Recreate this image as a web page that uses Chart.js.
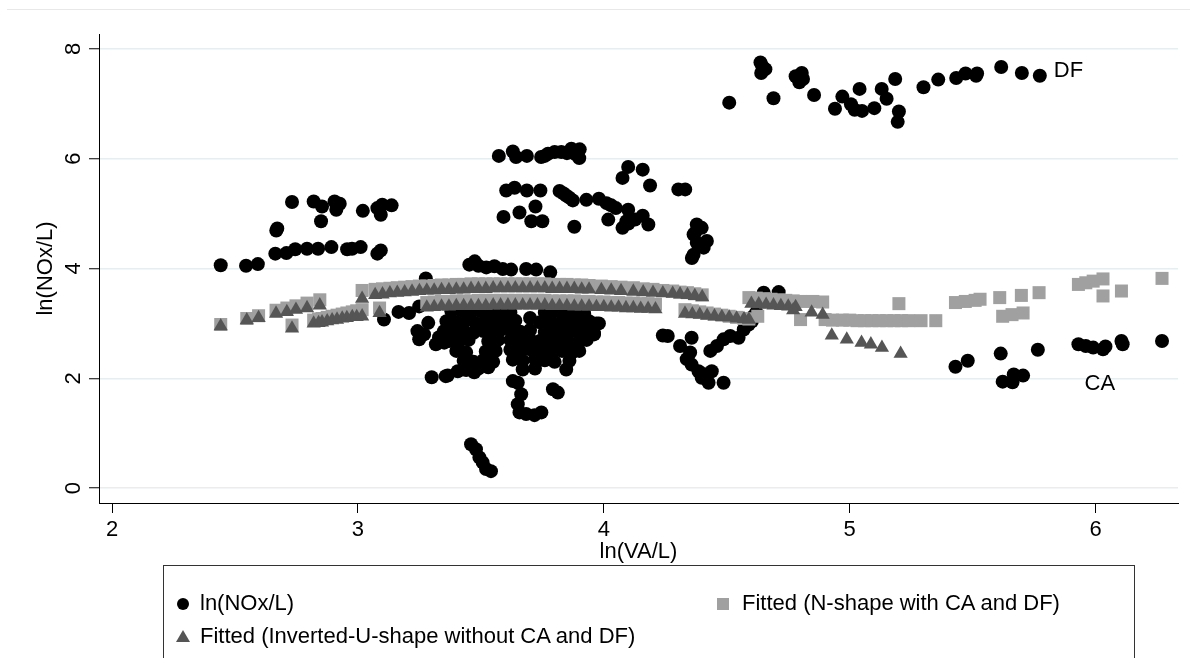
<!DOCTYPE html>
<html><head><meta charset="utf-8">
<script src="https://cdn.jsdelivr.net/npm/chart.js@4.4.0/dist/chart.umd.min.js"></script>
<style>
html,body{margin:0;padding:0;background:#fff;width:1198px;height:658px;overflow:hidden;font-family:"Liberation Sans",Arial,sans-serif;}
#wrap{position:relative;width:1198px;height:658px;}
#c{position:absolute;left:0;top:0;}
#topline{position:absolute;left:7px;right:8px;top:9px;height:1px;background:#e3eaec;}
#legend{position:absolute;left:163px;top:565px;width:972px;height:120px;border:1px solid #333;box-sizing:border-box;font-size:22px;color:#000;}
.item{position:absolute;height:30px;line-height:30px;white-space:nowrap;}
.mk{position:absolute;}
.circ{width:12px;height:12px;border-radius:50%;background:#000;}
.sq{width:12px;height:12px;background:#a0a0a0;}
.tri{width:0;height:0;border-left:7px solid transparent;border-right:7px solid transparent;border-bottom:12px solid #555;}
</style>
</head><body>
<div id="wrap">
<div id="topline"></div>
<canvas id="c" width="1198" height="658"></canvas>
<div id="legend">
  <div class="mk circ" style="left:13px;top:32px;"></div>
  <div class="item" style="left:36px;top:22px;">ln(NOx/L)</div>
  <div class="mk sq" style="left:553px;top:32px;"></div>
  <div class="item" style="left:578px;top:22px;">Fitted (N-shape with CA and DF)</div>
  <div class="mk tri" style="left:12px;top:64px;"></div>
  <div class="item" style="left:36px;top:55px;">Fitted (Inverted-U-shape without CA and DF)</div>
</div>
</div>
<script>
const xTicks = [2,3,4,5,6];
const yTicks = [0,2,4,6,8];
const xTitle = 'ln(VA/L)';
const yTitle = 'ln(NOx/L)';
const labelDF = {text:'DF', x:5.83, y:7.59};
const labelCA = {text:'CA', x:5.955, y:1.89};

// ln(NOx/L) observations [x, y]
const obsLeft = [
[2.442,4.06],[2.545,4.05],[2.593,4.08],[2.668,4.69],[2.672,4.73],[2.664,4.27],[2.709,4.28],[2.745,4.35],[2.793,4.36],[2.838,4.36],[2.892,4.39],[2.956,4.35],[2.976,4.36],[3.011,4.39],[3.079,4.27],[3.093,4.33],
[2.732,5.21],[2.82,5.22],[2.854,5.13],[2.85,4.86],[2.905,5.22],[2.926,5.18],[2.912,5.07],[3.02,5.05],[3.079,5.10],[3.099,5.16],[3.093,4.98],[3.137,5.15]
];
const obsMid = [
[3.276,3.82],[3.106,3.07],[3.165,3.21],[3.208,3.19],[3.249,3.31],[3.286,3.01],[3.242,2.86],[3.269,2.80],[3.249,2.71],[3.317,2.62],[3.33,2.75],[3.351,2.65],
[3.30,2.02],[3.357,2.04],[3.365,2.05],[3.406,2.13],[3.44,2.15],[3.473,2.11],
[3.453,4.07],[3.475,4.13],[3.49,4.05],[3.522,4.02],[3.555,4.04],[3.589,3.99],[3.623,3.98],[3.684,3.99],[3.725,3.98],[3.782,3.93]
];
const obsCluster = [
[3.38,3.22],[3.42,3.24],[3.46,3.20],[3.50,3.22],[3.54,3.19],[3.58,3.20],
[3.36,3.04],[3.40,3.02],[3.44,3.05],[3.48,3.00],[3.52,3.03],[3.56,3.01],[3.60,3.04],
[3.35,2.86],[3.39,2.84],[3.43,2.87],[3.47,2.83],[3.51,2.86],[3.55,2.84],[3.58,2.88],
[3.37,2.68],[3.41,2.66],[3.45,2.70],[3.53,2.67],[3.57,2.70],
[3.40,2.50],[3.44,2.47],[3.52,2.49],[3.56,2.50],
[3.43,2.32],[3.47,2.30],[3.51,2.33],[3.55,2.30],[3.49,2.18],[3.53,2.20],
[3.62,2.88],[3.66,2.85],[3.70,2.88],[3.64,3.05],[3.70,3.10],[3.62,3.20],
[3.62,2.70],[3.66,2.68],[3.70,2.71],[3.74,2.68],
[3.62,2.52],[3.66,2.50],[3.70,2.53],[3.74,2.50],[3.78,2.52],
[3.63,2.34],[3.67,2.32],[3.72,2.35],[3.76,2.33],[3.67,2.16],[3.72,2.18],
[3.63,1.95],[3.65,1.92],[3.664,1.71],[3.65,1.53],[3.657,1.38],[3.684,1.35],[3.718,1.33],[3.746,1.38],[3.793,1.80],[3.813,1.74],
[3.76,3.20],[3.80,3.22],[3.84,3.19],[3.88,3.21],[3.92,3.18],
[3.74,3.02],[3.78,3.04],[3.82,3.00],[3.86,3.03],[3.90,3.01],[3.94,3.04],[3.97,3.00],
[3.76,2.84],[3.80,2.86],[3.84,2.83],[3.88,2.86],[3.92,2.84],[3.96,2.82],
[3.78,2.66],[3.82,2.68],[3.86,2.65],[3.90,2.67],[3.93,2.70],
[3.79,2.48],[3.83,2.50],[3.87,2.47],[3.90,2.50],[3.80,2.30],[3.86,2.32],[3.847,2.16],
[3.46,0.80],[3.48,0.71],[3.494,0.56],[3.507,0.47],[3.521,0.35],[3.541,0.31]
];
const obsHigh = [
[3.573,6.05],[3.63,6.13],[3.643,6.03],[3.687,6.05],[3.745,6.03],[3.76,6.05],[3.773,6.09],[3.80,6.12],[3.827,6.12],[3.85,6.10],[3.868,6.18],[3.882,6.09],[3.902,6.17],[3.90,6.01],
[3.603,5.42],[3.637,5.47],[3.687,5.42],[3.742,5.42],[3.722,5.13],
[3.592,4.94],[3.657,5.02],[3.705,4.86],[3.75,4.86],
[3.82,5.41],[3.835,5.37],[3.847,5.33],[3.86,5.29],[3.874,5.24],[3.929,5.25],[3.98,5.27],[4.011,5.19],[4.03,5.15],[4.049,5.10],[4.099,5.07],
[3.88,4.76],[4.018,4.89],[4.076,4.74],[4.092,4.86],[4.10,4.82],[4.127,4.89],[4.158,4.96],[4.181,4.80],
[4.099,5.85],[4.158,5.80],[4.076,5.65],[4.188,5.51],[4.303,5.44],[4.331,5.44],
[4.378,4.80],[4.398,4.74],[4.371,4.65],[4.365,4.62],[4.378,4.47],[4.419,4.50],[4.385,4.44],[4.406,4.38],[4.365,4.25],[4.358,4.19]
];
const obsRight = [
[4.24,2.78],[4.26,2.77],[4.31,2.59],[4.357,2.74],[4.351,2.47],[4.337,2.35],[4.357,2.25],[4.385,2.13],[4.405,2.08],[4.398,2.01],[4.426,1.92],[4.439,2.13],[4.487,1.92],
[4.433,2.50],[4.46,2.59],[4.487,2.71],[4.514,2.77],[4.548,2.74],[4.569,2.89],[4.589,2.98],[4.602,3.04],[4.609,3.13],[4.62,3.20],
[4.65,3.56],[4.711,3.57],[3.96,2.80],[3.98,3.00]
];
const obsDF = [
[4.51,7.02],[4.637,7.75],[4.645,7.68],[4.657,7.63],[4.64,7.56],[4.69,7.10],[4.78,7.50],[4.805,7.56],[4.81,7.45],[4.795,7.39],[4.855,7.16],
[4.94,6.91],[4.97,7.13],[5.005,6.99],[5.02,6.89],[5.05,6.87],[5.04,7.27],[5.10,6.92],[5.13,7.27],[5.15,7.09],[5.185,7.45],[5.20,6.86],[5.195,6.67],
[5.30,7.30],[5.36,7.44],[5.433,7.47],[5.471,7.55],[5.514,7.51],[5.518,7.55],[5.616,7.67],[5.70,7.56],[5.773,7.51]
];
const obsCA = [
[5.43,2.21],[5.48,2.32],[5.614,2.45],[5.622,1.94],[5.662,1.93],[5.667,2.07],[5.705,2.05],[5.765,2.52],
[5.93,2.62],[5.96,2.59],[5.99,2.56],[6.03,2.53],[6.04,2.58],[6.105,2.68],[6.11,2.62],[6.27,2.68]
];

// Fitted (N-shape with CA and DF) [x, y]
const nshapeLeft = [
[2.442,2.98],[2.548,3.09],[2.596,3.14],[2.667,3.24],[2.711,3.28],[2.748,3.32],[2.793,3.37],[2.845,3.43],[2.732,2.97],
[2.82,3.06],[2.84,3.08],[2.854,3.09],[2.875,3.11],[2.895,3.13],[2.915,3.15],[2.936,3.17],[2.955,3.19],[2.977,3.21],[2.995,3.23],[3.017,3.25],[3.017,3.60],[3.088,3.28]
];
const nshapeUpper = [
[3.07,3.62],[3.10,3.63],[3.13,3.64],[3.16,3.65],[3.19,3.66],[3.22,3.67],[3.25,3.68],[3.28,3.68],[3.31,3.69],[3.34,3.70],[3.37,3.70],[3.40,3.71],[3.43,3.71],[3.46,3.72],[3.49,3.72],[3.52,3.72],[3.55,3.72],[3.58,3.72],[3.61,3.72],[3.64,3.72],[3.67,3.72],[3.70,3.72],[3.73,3.72],[3.76,3.72],[3.79,3.71],[3.82,3.71],[3.85,3.71],[3.88,3.70],[3.91,3.70],[3.94,3.69],[3.99,3.68],[4.03,3.67],[4.07,3.66],[4.12,3.65],[4.16,3.63],[4.20,3.62],[4.24,3.60],[4.28,3.59],[4.31,3.57],[4.34,3.56],[4.37,3.54],[4.40,3.52]
];
const nshapeLower = [
[3.28,3.38],[3.31,3.39],[3.34,3.40],[3.37,3.40],[3.40,3.41],[3.43,3.41],[3.46,3.41],[3.49,3.42],[3.52,3.42],[3.55,3.42],[3.58,3.42],[3.61,3.42],[3.64,3.42],[3.67,3.42],[3.70,3.42],[3.73,3.42],[3.76,3.42],[3.79,3.41],[3.82,3.41],[3.85,3.41],[3.88,3.41],[3.91,3.40],[3.94,3.40],[3.97,3.39],[4.00,3.39],[4.03,3.38],[4.06,3.38],[4.09,3.37],[4.12,3.37],[4.15,3.36],[4.18,3.36],[4.21,3.35]
];
const nshapeRight = [
[4.33,3.25],[4.36,3.23],[4.39,3.21],[4.42,3.19],[4.45,3.17],[4.48,3.15],[4.51,3.13],[4.54,3.11],[4.57,3.09],[4.59,3.08],
[4.59,3.47],[4.62,3.46],[4.65,3.45],[4.68,3.44],[4.71,3.43],[4.74,3.42],[4.77,3.41],[4.80,3.40],[4.626,3.13],
[4.85,3.40],[4.89,3.39],[4.80,3.07],[4.90,3.07],[4.93,3.06],
[4.97,3.06],[5.00,3.06],[5.03,3.05],[5.06,3.05],[5.09,3.05],[5.12,3.05],[5.15,3.05],[5.18,3.05],[5.21,3.05],[5.24,3.05],[5.20,3.36],[5.29,3.05],[5.35,3.05],
[5.43,3.38],[5.47,3.40],[5.51,3.42],[5.53,3.44],[5.61,3.47],[5.622,3.13],[5.66,3.16],[5.705,3.19],[5.698,3.51],[5.77,3.56],
[5.93,3.71],[5.96,3.74],[5.99,3.77],[6.03,3.81],[6.03,3.50],[6.105,3.59],[6.27,3.82]
];

// Fitted (Inverted-U-shape without CA and DF) [x, y]
const invuLeft = [
[2.442,2.95],[2.548,3.06],[2.596,3.10],[2.667,3.18],[2.711,3.21],[2.748,3.25],[2.793,3.28],[2.845,3.33],[2.732,2.91],
[2.82,3.00],[2.84,3.01],[2.854,3.02],[2.875,3.04],[2.895,3.06],[2.915,3.07],[2.936,3.09],[2.955,3.10],[2.977,3.12],[2.995,3.12],[3.017,3.13],[3.017,3.45],[3.088,3.19]
];
const invuUpper = [
[3.07,3.52],[3.10,3.53],[3.13,3.55],[3.16,3.56],[3.19,3.57],[3.22,3.58],[3.25,3.59],[3.28,3.60],[3.31,3.60],[3.34,3.61],[3.37,3.61],[3.40,3.62],[3.43,3.62],[3.46,3.63],[3.49,3.63],[3.52,3.63],[3.55,3.64],[3.58,3.64],[3.61,3.64],[3.64,3.64],[3.67,3.64],[3.70,3.64],[3.73,3.64],[3.76,3.64],[3.79,3.63],[3.82,3.63],[3.85,3.63],[3.88,3.63],[3.91,3.62],[3.94,3.62],[3.99,3.61],[4.03,3.60],[4.07,3.59],[4.12,3.58],[4.16,3.57],[4.20,3.56],[4.24,3.55],[4.28,3.54],[4.31,3.53],[4.34,3.52],[4.37,3.50],[4.40,3.48]
];
const invuLower = [
[3.28,3.29],[3.31,3.30],[3.34,3.31],[3.37,3.31],[3.40,3.32],[3.43,3.32],[3.46,3.32],[3.49,3.32],[3.52,3.32],[3.55,3.33],[3.58,3.33],[3.61,3.33],[3.64,3.33],[3.67,3.33],[3.70,3.33],[3.73,3.33],[3.76,3.33],[3.79,3.32],[3.82,3.32],[3.85,3.32],[3.88,3.31],[3.91,3.31],[3.94,3.31],[3.97,3.30],[4.00,3.30],[4.03,3.29],[4.06,3.29],[4.09,3.28],[4.12,3.28],[4.15,3.27],[4.18,3.27],[4.21,3.26]
];
const invuRight = [
[4.33,3.18],[4.36,3.17],[4.39,3.16],[4.42,3.14],[4.45,3.13],[4.48,3.12],[4.51,3.11],[4.54,3.09],[4.57,3.08],[4.59,3.07],
[4.60,3.36],[4.63,3.35],[4.66,3.34],[4.69,3.33],[4.72,3.32],[4.75,3.31],[4.78,3.30],[4.77,3.24],[4.845,3.20],[4.89,3.16],
[4.927,2.78],[4.988,2.71],[5.048,2.65],[5.086,2.62],[5.131,2.56],[5.207,2.45]
];

const FONT = '"Liberation Sans", Arial, sans-serif';
const toPts = arr => arr.map(p => ({x:p[0], y:p[1]}));

const obsAll = [].concat(obsLeft, obsMid, obsCluster, obsHigh, obsRight, obsDF, obsCA);
const nshapeAll = [].concat(nshapeLeft, nshapeUpper, nshapeLower, nshapeRight);
const invuAll = [].concat(invuLeft, invuUpper, invuLower, invuRight);

const annot = {
  id:'annot',
  afterDatasetsDraw(chart){
    const {ctx, scales:{x,y}} = chart;
    ctx.save();
    ctx.fillStyle = '#000';
    ctx.font = '22px ' + FONT;
    ctx.textAlign = 'left';
    ctx.textBaseline = 'middle';
    [labelDF, labelCA].forEach(l => ctx.fillText(l.text, x.getPixelForValue(l.x), y.getPixelForValue(l.y)));
    ctx.restore();
  },
  afterDraw(chart){
    const {ctx, scales:{y}} = chart;
    ctx.save();
    ctx.fillStyle = '#000';
    ctx.font = '22px ' + FONT;
    ctx.textAlign = 'center';
    ctx.textBaseline = 'middle';
    yTicks.forEach(v => {
      ctx.save();
      ctx.translate(74, y.getPixelForValue(v));
      ctx.rotate(-Math.PI/2);
      ctx.fillText(String(v), 0, 0);
      ctx.restore();
    });
    ctx.restore();
  }
};

new Chart(document.getElementById('c'), {
  type:'scatter',
  data:{datasets:[
    {label:'ln(NOx/L)', data:toPts(obsAll), pointStyle:'circle', pointRadius:7, pointBackgroundColor:'#000', pointBorderWidth:0, order:3},
    {label:'Fitted (N-shape with CA and DF)', data:toPts(nshapeAll), pointStyle:'rect', pointRadius:9.2, pointBackgroundColor:'#a0a0a0', pointBorderWidth:0, order:2},
    {label:'Fitted (Inverted-U-shape without CA and DF)', data:toPts(invuAll), pointStyle:'triangle', pointRadius:8.2, pointBackgroundColor:'#555555', pointBorderWidth:0, order:1}
  ]},
  options:{
    responsive:false, animation:false, devicePixelRatio:1, events:[],
    layout:{padding:{left:0, right:20, top:34, bottom:0}},
    plugins:{legend:{display:false}, tooltip:{enabled:false}},
    scales:{
      x:{type:'linear', min:1.947, max:6.335,
        afterBuildTicks: s => { s.ticks = xTicks.map(v => ({value:v})); },
        afterFit: s => { s.height = 155; },
        grid:{drawOnChartArea:false, drawTicks:true, tickLength:10, tickColor:'#000', tickWidth:1},
        border:{display:true, color:'#000', width:1},
        ticks:{color:'#000', font:{family:FONT, size:22}, padding:4, maxRotation:0, callback:v => String(v)},
        title:{display:true, text:xTitle, color:'#000', font:{family:FONT, size:22}, padding:{top:0, bottom:93}}
      },
      y:{type:'linear', min:-0.27, max:8.27,
        afterBuildTicks: s => { s.ticks = yTicks.map(v => ({value:v})); },
        afterFit: s => { s.width = 99; },
        grid:{color:'#e6eef0', lineWidth:1.5, drawTicks:true, tickLength:10, tickColor:'#000', tickWidth:1},
        border:{display:true, color:'#000', width:1},
        ticks:{display:false},
        title:{display:true, text:yTitle, color:'#000', font:{family:FONT, size:22}, padding:{top:33, bottom:0}}
      }
    }
  },
  plugins:[annot]
});
</script>
</body></html>
